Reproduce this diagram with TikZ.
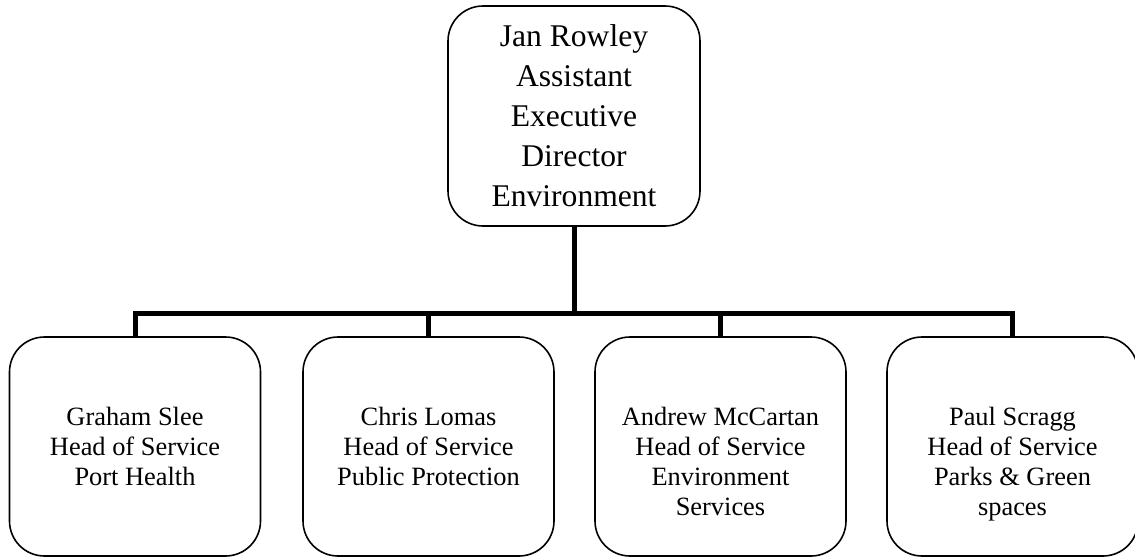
\documentclass[tikz,border=0pt]{standalone}
\usepackage{fontspec}
\setmainfont{Liberation Serif}
\begin{document}
\begin{tikzpicture}[x=1pt,y=-1pt,
  box/.style={draw, line width=1.6pt, rounded corners=35pt, inner sep=0pt, minimum width=251pt, minimum height=219pt},
  conn/.style={line width=5pt, line join=miter},
  toptext/.style={font=\fontsize{31.6}{40}\selectfont, align=center},
  subtext/.style={font=\fontsize{26.4}{30}\selectfont, align=center, anchor=north, inner sep=0pt}]
\useasboundingbox (0,0) rectangle (1135,557);
\node[box, minimum width=252pt, minimum height=220pt, toptext] (top) at (574,116)
  {Jan Rowley\\Assistant\\Executive\\Director\\Environment};
\node[box] (b1) at (135,446.5) {};
\node[box] (b2) at (428.5,446.5) {};
\node[box] (b3) at (720.5,446.5) {};
\node[box] (b4) at (1012.5,446.5) {};
\node[subtext] (t1) at ([yshift=-71pt]b1.north) {Graham Slee\\Head of Service\\Port Health};
\node[subtext] (t2) at ([yshift=-71pt]b2.north) {Chris Lomas\\Head of Service\\Public Protection};
\node[subtext] (t3) at ([yshift=-71pt]b3.north) {Andrew McCartan\\Head of Service\\Environment\\Services};
\node[subtext] (t4) at ([yshift=-71pt]b4.north) {Paul Scragg\\Head of Service\\Parks \& Green\\spaces};
\coordinate (bus) at (574,313);
\draw[conn] (top.south) -- (bus);
\draw[conn] (b1.north) -- (b1.north |- bus) -- (b4.north |- bus) -- (b4.north);
\draw[conn] (b2.north) -- (b2.north |- bus);
\draw[conn] (b3.north) -- (b3.north |- bus);
\end{tikzpicture}
\end{document}
